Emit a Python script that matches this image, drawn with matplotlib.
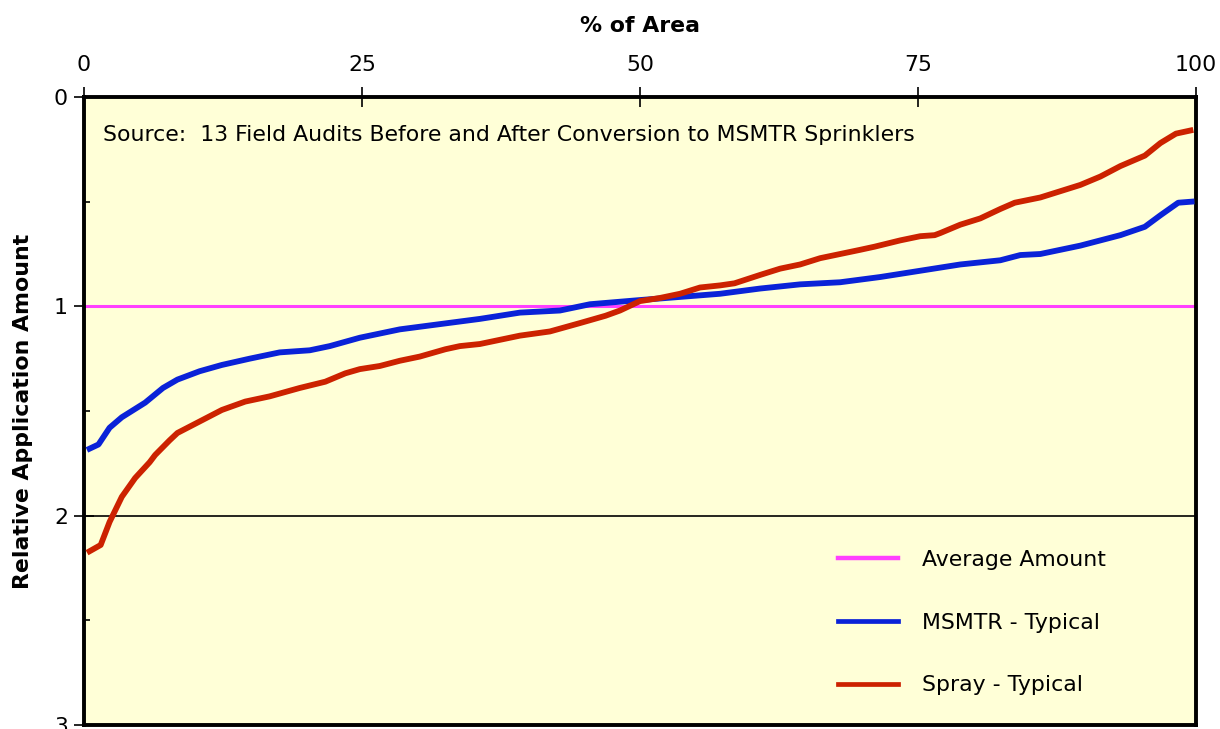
import matplotlib
matplotlib.use("Agg")
import matplotlib.pyplot as plt
from matplotlib.ticker import MultipleLocator
from matplotlib.lines import Line2D

plt.rcParams['font.family'] = ['DejaVu Sans']

# Data
msmtr_x = [0.5, 1.3, 2.3, 3.4, 5.5, 7.1, 8.4, 10.4, 12.4, 14.9, 17.6, 20.3, 22.1, 24.8,
           28.4, 32.0, 35.6, 39.2, 42.8, 45.5, 50.0, 53.6, 57.2, 60.8, 64.4, 68.0, 71.6,
           75.2, 78.8, 82.4, 84.2, 86.0, 89.6, 91.4, 93.2, 95.4, 96.8, 98.4, 99.6]
msmtr_y = [1.68, 1.66, 1.58, 1.53, 1.46, 1.39, 1.35, 1.31, 1.28, 1.25, 1.22, 1.21, 1.19, 1.15,
           1.11, 1.085, 1.06, 1.03, 1.02, 0.99, 0.97, 0.955, 0.94, 0.915, 0.895, 0.885, 0.86,
           0.83, 0.80, 0.78, 0.755, 0.75, 0.71, 0.685, 0.66, 0.62, 0.565, 0.505, 0.50]

spray_x = [0.5, 1.5, 2.3, 3.4, 4.6, 5.9, 6.4, 7.7, 8.4, 10.4, 12.4, 14.5, 16.7, 19.4, 21.7,
           23.5, 24.8, 26.6, 28.4, 30.2, 32.5, 33.8, 35.6, 37.4, 39.2, 41.9, 44.6, 46.9,
           48.2, 50.0, 51.8, 53.6, 55.4, 57.2, 58.5, 60.8, 62.6, 64.4, 66.2, 68.0, 69.8,
           71.1, 73.4, 75.2, 76.5, 77.0, 78.8, 80.6, 82.4, 83.7, 86.0, 87.8, 89.6, 91.4,
           93.2, 95.4, 96.8, 98.2, 99.5]
spray_y = [2.17, 2.14, 2.03, 1.91, 1.82, 1.745, 1.71, 1.64, 1.605, 1.55, 1.495, 1.455, 1.43,
           1.39, 1.36, 1.32, 1.30, 1.285, 1.26, 1.24, 1.205, 1.19, 1.18, 1.16, 1.14, 1.12,
           1.08, 1.045, 1.02, 0.975, 0.96, 0.94, 0.91, 0.90, 0.89, 0.85, 0.82, 0.80, 0.77,
           0.75, 0.73, 0.715, 0.685, 0.665, 0.66, 0.65, 0.61, 0.58, 0.535, 0.505, 0.48, 0.45,
           0.42, 0.38, 0.33, 0.28, 0.22, 0.175, 0.16]

average_value = 1.0
x_ticks = [0, 25, 50, 75, 100]
y_ticks = [0, 1, 2, 3]

FS = 15.8
C_AVG, C_MS, C_SP = '#FF40FF', '#0A22D8', '#CC2200'

fig = plt.figure(figsize=(12.2, 7.29), dpi=100)
ax = fig.add_axes([84/1220, 1 - 725/729, (1196-84)/1220, (725-97)/729])
ax.set_facecolor('#FFFFD7')

ax.set_xlim(0, 100)
ax.set_ylim(3, 0)

ax.axhline(2, color='black', lw=1.2, zorder=1)
ax.axhline(1, color='black', lw=1.2, zorder=1)

ax.plot([0, 100], [average_value, average_value], color=C_AVG, lw=2.2,
        zorder=2, solid_capstyle='butt')
ax.plot(msmtr_x, msmtr_y, color=C_MS, lw=4.2, zorder=3)
ax.plot(spray_x, spray_y, color=C_SP, lw=4.2, zorder=4)

ax.xaxis.tick_top()
ax.xaxis.set_label_position('top')
ax.set_xticks(x_ticks)
ax.set_yticks(y_ticks)
ax.yaxis.set_minor_locator(MultipleLocator(0.5))
ax.tick_params(axis='both', which='major', direction='inout', length=15, width=1.2,
               labelsize=FS)
ax.tick_params(axis='y', which='major', pad=4)
ax.tick_params(axis='x', which='major', pad=8)
ax.tick_params(axis='y', which='minor', direction='in', length=4, width=1.2)

for s in ax.spines.values():
    s.set_linewidth(2.8)
    s.set_color('black')

ax.set_xlabel('% of Area', fontsize=FS, fontweight='bold', labelpad=17)
ax.set_ylabel('Relative Application Amount', fontsize=FS, fontweight='bold')
ax.yaxis.set_label_coords(-0.046, 0.5)

ax.text(1.7, 0.18, 'Source:  13 Field Audits Before and After Conversion to MSMTR Sprinklers',
        fontsize=FS, va='center', ha='left')

handles = [Line2D([], [], color=C_AVG, lw=3.2),
           Line2D([], [], color=C_MS, lw=3.4),
           Line2D([], [], color=C_SP, lw=3.4)]
labels = ['Average Amount', 'MSMTR - Typical', 'Spray - Typical']
ax.legend(handles, labels, loc='upper left', bbox_to_anchor=(0.670, 0.293), borderaxespad=0,
          frameon=False, fontsize=FS, handlelength=2.75, handletextpad=1.1, labelspacing=1.95)

fig.savefig('out.png', dpi=100)
